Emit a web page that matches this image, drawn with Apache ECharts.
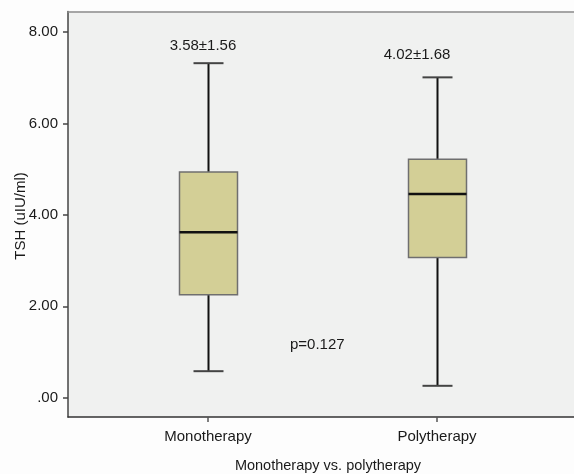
<!DOCTYPE html>
<html>
<head>
<meta charset="utf-8">
<style>
  html, body { margin: 0; padding: 0; background: #fdfdfd; }
  #chart { width: 574px; height: 474px; }
</style>
<script src="https://cdn.jsdelivr.net/npm/echarts@6/dist/echarts.min.js"></script>
</head>
<body>
<div id="chart"></div>
<script>
// TSH by treatment group: five-number summaries per group
const categories = ['Monotherapy', 'Polytherapy'];
const whiskerLow = [0.58, 0.26];
const quartile1 = [2.25, 3.07];
const medians = [3.62, 4.46];
const quartile3 = [4.94, 5.22];
const whiskerHigh = [7.32, 7.01];
const meanSd = ['3.58±1.56', '4.02±1.68'];
const pValueText = 'p=0.127';
const yTicks = [0, 2, 4, 6, 8];

const FONT = 'Liberation Sans, Arial, sans-serif';
const boxData = categories.map((c, i) => [i + 1, whiskerLow[i], quartile1[i], medians[i], quartile3[i], whiskerHigh[i]]);

const chart = echarts.init(document.getElementById('chart'), null, { renderer: 'canvas' });

function renderBox(params, api) {
  const x = api.value(0);
  const pLow = api.coord([x, api.value(1)]);
  const pQ1 = api.coord([x, api.value(2)]);
  const pMed = api.coord([x, api.value(3)]);
  const pQ3 = api.coord([x, api.value(4)]);
  const pHigh = api.coord([x, api.value(5)]);
  const cx = Math.round(pMed[0]) + 0.5;
  const halfBox = 29;
  const halfCap = 15;
  const stem = { stroke: '#111', lineWidth: 2 };
  const cap = { stroke: '#444', lineWidth: 2 };
  return {
    type: 'group',
    children: [
      { type: 'line', shape: { x1: cx, y1: pLow[1], x2: cx, y2: pQ1[1] }, style: stem },
      { type: 'line', shape: { x1: cx, y1: pQ3[1], x2: cx, y2: pHigh[1] }, style: stem },
      { type: 'line', shape: { x1: cx - halfCap, y1: pLow[1], x2: cx + halfCap, y2: pLow[1] }, style: cap },
      { type: 'line', shape: { x1: cx - halfCap, y1: pHigh[1], x2: cx + halfCap, y2: pHigh[1] }, style: cap },
      { type: 'rect', shape: { x: cx - halfBox, y: pQ3[1], width: halfBox * 2, height: pQ1[1] - pQ3[1] },
        style: { fill: '#d3cf96', stroke: '#6f6f6f', lineWidth: 1.5 } },
      { type: 'line', shape: { x1: cx - halfBox, y1: pMed[1], x2: cx + halfBox, y2: pMed[1] },
        style: { stroke: '#111', lineWidth: 2.5 } }
    ]
  };
}

// Plot area reaches the right edge; only the top, left and bottom edges are ruled
const xRange = { min: 0.3886, max: 2.5983 };
const option = {
  backgroundColor: '#fdfdfd',
  animation: false,
  grid: {
    left: 68, right: 0, top: 11.5, bottom: 57,
    show: true, backgroundColor: '#f0f1f0', borderWidth: 0
  },
  xAxis: [{
    type: 'value',
    min: xRange.min, max: xRange.max,
    splitLine: { show: false },
    axisLine: { show: true, onZero: false, lineStyle: { color: '#333', width: 1.5 } },
    axisTick: { show: true, customValues: [1, 2], length: 5, lineStyle: { color: '#555', width: 1.5 } },
    axisLabel: {
      customValues: [1, 2], margin: 12,
      formatter: v => categories[Math.round(v) - 1],
      color: '#1a1a1a', fontFamily: FONT, fontSize: 15
    }
  }, {
    type: 'value', position: 'top',
    min: xRange.min, max: xRange.max,
    splitLine: { show: false },
    axisLine: { show: true, onZero: false, lineStyle: { color: '#8c8c8c', width: 1.5 } },
    axisTick: { show: false },
    axisLabel: { show: false }
  }],
  yAxis: {
    type: 'value',
    min: -0.4226, max: 8.451,
    splitLine: { show: false },
    axisLine: { show: true, onZero: false, lineStyle: { color: '#444', width: 1.5 } },
    axisTick: { show: true, customValues: yTicks, length: 5, lineStyle: { color: '#444', width: 1.5 } },
    axisLabel: {
      customValues: yTicks, margin: 10,
      formatter: v => (v === 0 ? '.00' : v.toFixed(2)),
      color: '#1a1a1a', fontFamily: FONT, fontSize: 15
    }
  },
  series: [{
    type: 'custom',
    renderItem: renderBox,
    data: boxData,
    xAxisIndex: 0,
    encode: { x: 0, y: [1, 2, 3, 4, 5] },
    silent: true
  }]
};

chart.setOption(option);

// Annotations placed with the chart's own coordinate conversion
function toPx(x, y) { return chart.convertToPixel({ xAxisIndex: 0, yAxisIndex: 0 }, [x, y]); }
const t1 = toPx(0.978, 7.70);
const t2 = toPx(1.913, 7.51);
const tp = toPx(1.358, 1.154);
const txt = (x, y, text, align) => ({
  type: 'text', x: x, y: y,
  style: { text: text, fill: '#1a1a1a', font: '15px ' + FONT, textAlign: align, textVerticalAlign: 'middle' }
});
chart.setOption({
  graphic: [
    txt(t1[0], t1[1], meanSd[0], 'center'),
    txt(t2[0], t2[1], meanSd[1], 'center'),
    txt(tp[0], tp[1], pValueText, 'left'),
    {
      type: 'text', x: 21, y: 216, rotation: Math.PI / 2,
      style: { text: 'TSH (uIU/ml)', fill: '#1a1a1a', font: '15px ' + FONT, textAlign: 'center', textVerticalAlign: 'middle' }
    },
    {
      type: 'text', x: 328, y: 466,
      style: { text: 'Monotherapy vs. polytherapy', fill: '#1a1a1a', font: '14.5px ' + FONT, textAlign: 'center', textVerticalAlign: 'middle' }
    }
  ]
});
</script>
</body>
</html>
